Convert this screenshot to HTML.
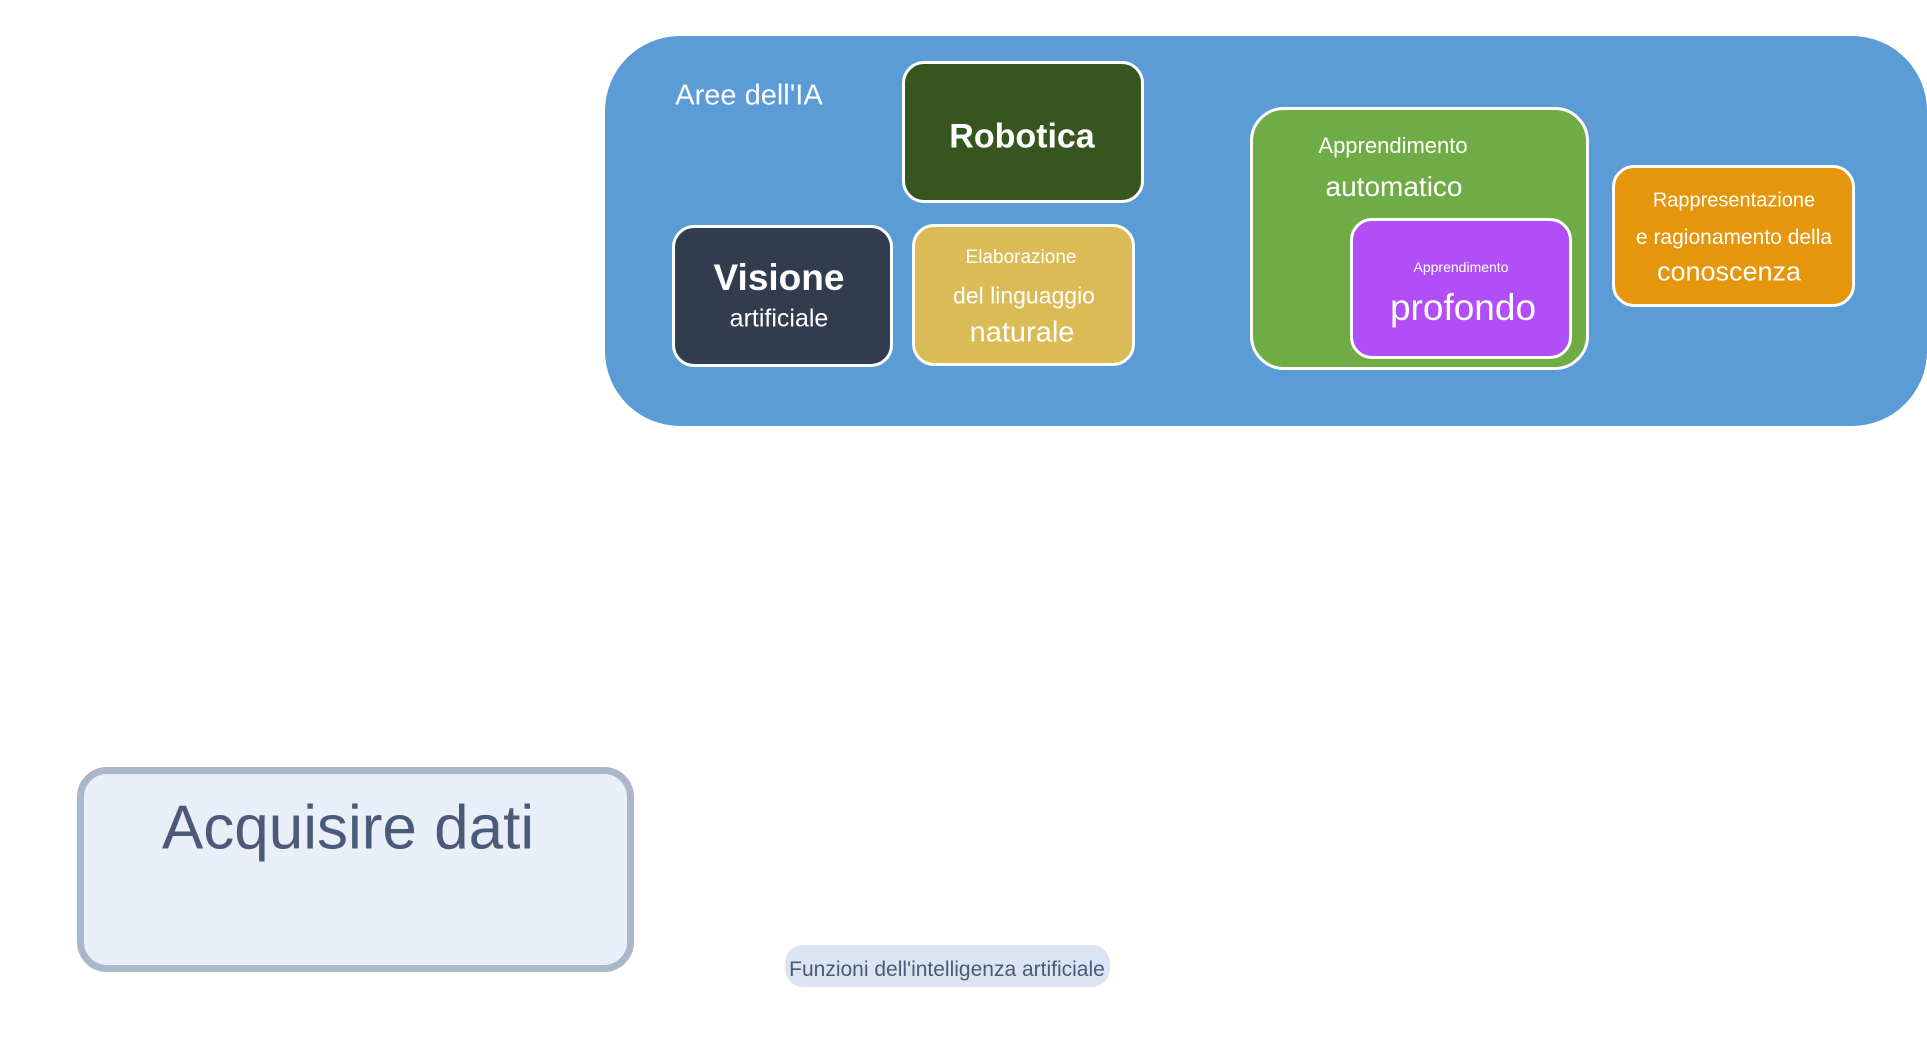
<!DOCTYPE html>
<html><head><meta charset="utf-8"><style>
body{margin:0;width:1927px;height:1037px;background:#fff;position:relative;overflow:hidden;font-family:"Liberation Sans",sans-serif}
.b{position:absolute;box-sizing:border-box;border:3px solid #fff;border-radius:22px;color:#fff;text-align:center}
.t{position:absolute;white-space:nowrap;transform:translate(-50%,-50%);color:#fff}
</style></head><body>
<div style="position:absolute;left:605px;top:36px;width:1322px;height:390px;background:#5b9bd6;border-radius:75px"></div>
<div class="t" style="left:749px;top:96px;font-size:29px">Aree dell'IA</div>

<div class="b" style="left:902px;top:61px;width:242px;height:142px;background:#37561f"></div>
<div class="t" style="left:1022px;top:137px;font-size:34px;font-weight:bold">Robotica</div>

<div class="b" style="left:672px;top:225px;width:221px;height:142px;background:#323c4f"></div>
<div class="t" style="left:779px;top:278px;font-size:37px;font-weight:bold">Visione</div>
<div class="t" style="left:779px;top:319px;font-size:25px">artificiale</div>

<div class="b" style="left:912px;top:224px;width:223px;height:142px;background:#dbbb55"></div>
<div class="t" style="left:1021px;top:258px;font-size:19px">Elaborazione</div>
<div class="t" style="left:1024px;top:296px;font-size:23px">del linguaggio</div>
<div class="t" style="left:1022px;top:333px;font-size:29px">naturale</div>

<div class="b" style="left:1250px;top:107px;width:339px;height:263px;background:#6fac46;border-radius:34px"></div>
<div class="t" style="left:1393px;top:146px;font-size:22px">Apprendimento</div>
<div class="t" style="left:1394px;top:187px;font-size:28px">automatico</div>

<div class="b" style="left:1350px;top:218px;width:222px;height:141px;background:#b14ef5"></div>
<div class="t" style="left:1461px;top:267px;font-size:14px">Apprendimento</div>
<div class="t" style="left:1463px;top:308px;font-size:37px">profondo</div>

<div class="b" style="left:1612px;top:165px;width:243px;height:142px;background:#e6960a"></div>
<div class="t" style="left:1734px;top:201px;font-size:20px">Rappresentazione</div>
<div class="t" style="left:1734px;top:238px;font-size:21px">e ragionamento della</div>
<div class="t" style="left:1729px;top:272px;font-size:27px">conoscenza</div>

<div style="position:absolute;left:77px;top:767px;width:557px;height:205px;box-sizing:border-box;background:#e9eff9;border:7px solid #aab6ca;border-radius:30px"></div>
<div class="t" style="left:348px;top:828px;font-size:62px;color:#4a5a78">Acquisire dati</div>

<div style="position:absolute;left:785px;top:945px;width:325px;height:42px;background:#dbe4f2;border-radius:18px"></div>
<div class="t" style="left:947px;top:970px;font-size:21px;color:#4a5a78">Funzioni dell'intelligenza artificiale</div>
</body></html>
